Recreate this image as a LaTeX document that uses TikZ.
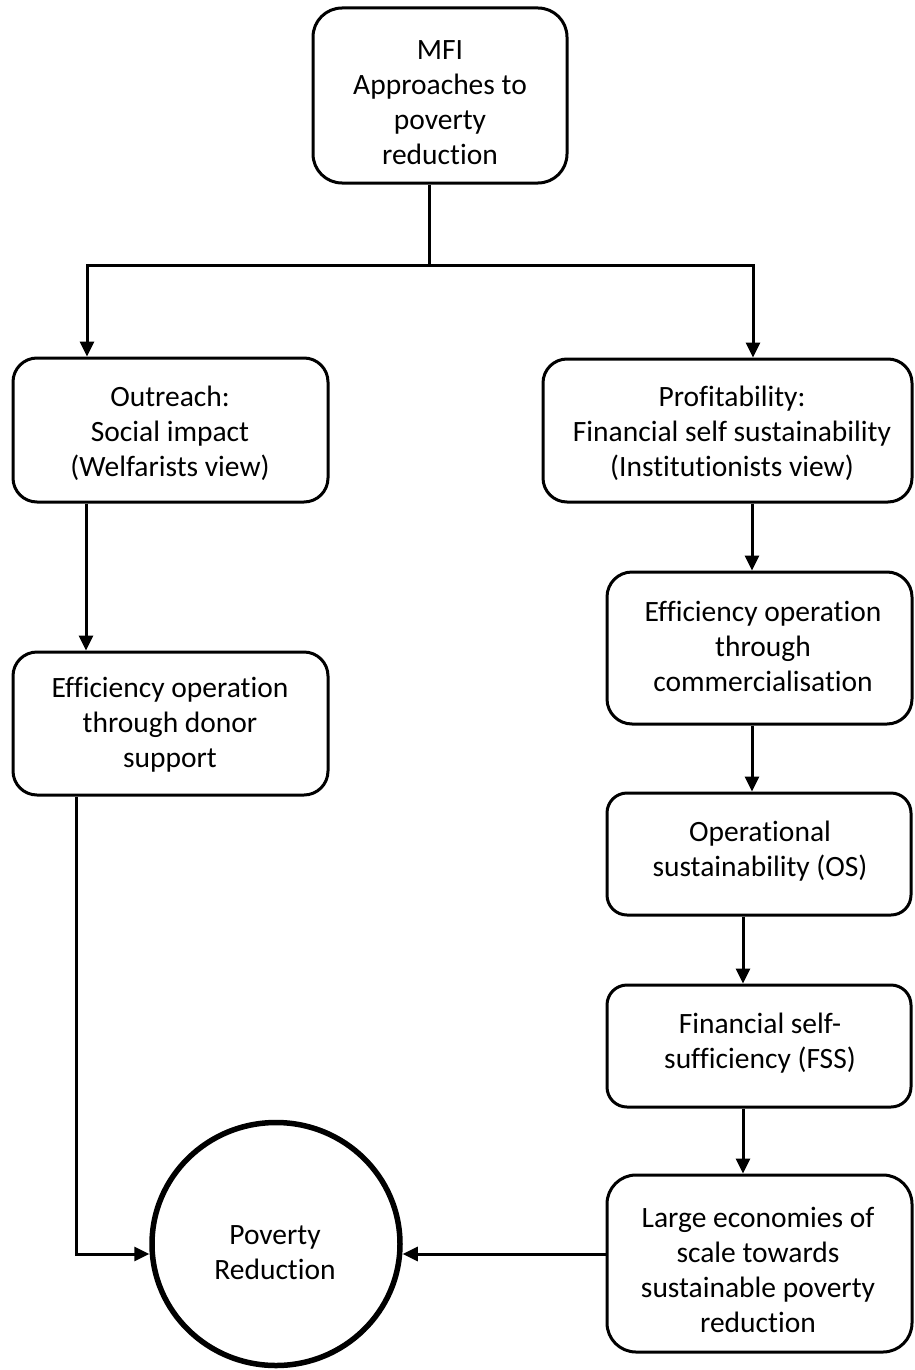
\documentclass[tikz,border=0pt]{standalone}
\usepackage{fontspec}
\setmainfont{Carlito}[Ligatures=NoCommon]
\usetikzlibrary{arrows.meta,shapes.geometric}
\begin{document}
\begin{tikzpicture}[x=1pt,y=-1pt,
  box/.style={draw,line width=3pt,rectangle,inner sep=0pt},
  txt/.style={font=\fontsize{29.5}{35}\selectfont,align=center,inner sep=0pt},
  conn/.style={line width=3pt,-{Triangle[length=15pt,width=14pt]}},
  plain/.style={line width=3pt}]
\useasboundingbox (0,0) rectangle (914,1370);

% boxes
\node[box,rounded corners=29pt,minimum width=254pt,minimum height=175pt] (mfi) at (440,95.5) {};
\node[box,rounded corners=24pt,minimum width=315pt,minimum height=144pt] (out) at (170.5,430) {};
\node[box,rounded corners=24pt,minimum width=369pt,minimum height=143pt] (prof) at (727.5,430.5) {};
\node[box,rounded corners=24pt,minimum width=315pt,minimum height=143pt] (donor) at (170.5,723.5) {};
\node[box,rounded corners=25pt,minimum width=305pt,minimum height=152pt] (comm) at (759.5,648) {};
\node[box,rounded corners=20pt,minimum width=304pt,minimum height=122pt] (os) at (759,854) {};
\node[box,rounded corners=20pt,minimum width=304pt,minimum height=122pt] (fss) at (759,1046) {};
\node[box,rounded corners=29pt,minimum width=305pt,minimum height=177pt] (large) at (759.5,1263.5) {};
\node[draw,ellipse,line width=5.5pt,inner sep=0pt,minimum width=248pt,minimum height=243pt] (pov) at (276,1244) {};

% texts
\node[txt] (tmfi) at (440,103) {MFI\\Approaches to\\poverty\\reduction};
\node[txt] (tout) at (170,433) {Outreach:\\Social impact\\(Welfarists view)};
\node[txt] (tprof) at (732,433) {Profitability:\\Financial self sustainability\\(Institutionists view)};
\node[txt] (tdonor) at (170,725) {Efficiency operation\\through donor\\support};
\node[txt] (tcomm) at (763,646) {Efficiency operation\\through\\commercialisation};
\node[txt] (tos) at (760,851) {Operational\\sustainability (OS)};
\node[txt] (tfss) at (760,1043) {Financial self-\\sufficiency (FSS)};
\node[txt] (tlarge) at (758,1270) {Large economies of\\scale towards\\sustainable poverty\\reduction};
\node[txt] (tpov) at (275,1253) {Poverty\\Reduction};

% connectors
\coordinate (split) at (429,265);
\coordinate (lc) at (87,265);
\coordinate (rc) at (753,265);
\coordinate (lx) at (86,0);
\coordinate (dx) at (76,1254);
\coordinate (rx) at (752,0);
\coordinate (rx2) at (743,0);

\draw[plain] (mfi.south -| split) -- (split);
\draw[conn] (split) -- (lc) -- (lc |- out.north);
\draw[conn] (split) -- (rc) -- (rc |- prof.north);
\draw[conn] (out.south -| lx) -- (donor.north -| lx);
\draw[conn] (donor.south -| dx) -- (dx) -- (dx -| pov.west);
\draw[conn] (dx -| large.west) -- (dx -| pov.east);
\draw[conn] (prof.south -| rx) -- (comm.north -| rx);
\draw[conn] (comm.south -| rx) -- (os.north -| rx);
\draw[conn] (os.south -| rx2) -- (fss.north -| rx2);
\draw[conn] (fss.south -| rx2) -- (large.north -| rx2);
\end{tikzpicture}
\end{document}
